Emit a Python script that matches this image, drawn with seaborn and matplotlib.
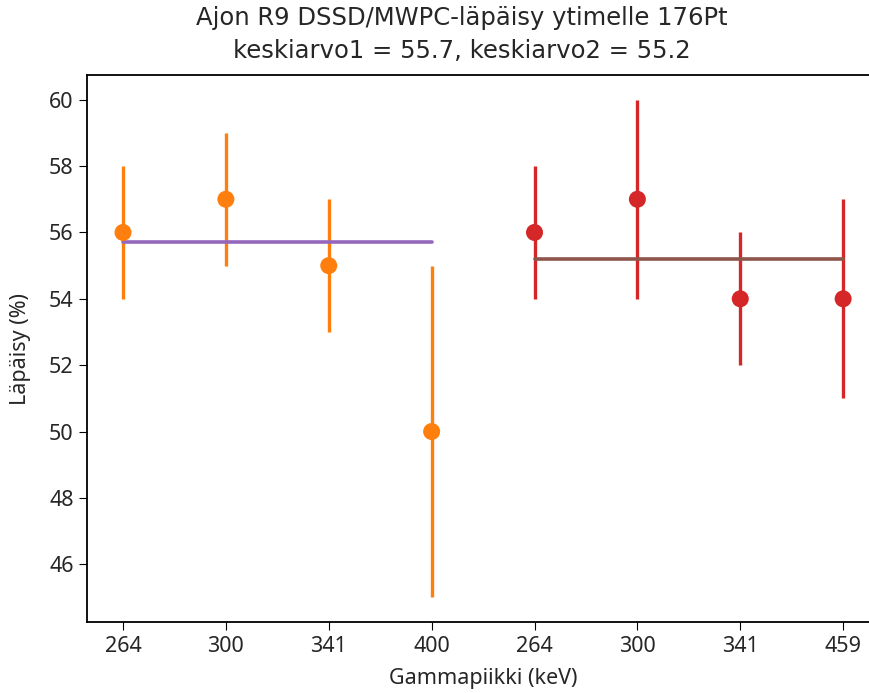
import numpy as np
import pandas as pd
import matplotlib
matplotlib.use("Agg")
import matplotlib.pyplot as plt
import seaborn as sns

# ── Data ──────────────────────────────────────────────────────────────────────
peaks1 = ["264", "300", "341", "400"]
vals1  = [56, 57, 55, 50]
errs1  = [2, 2, 2, 5]

peaks2 = ["264", "300", "341", "459"]
vals2  = [56, 57, 54, 54]
errs2  = [2, 3, 2, 3]

mean1 = 55.7
mean2 = 55.2

sns.set_style("ticks")
plt.rcParams["font.family"] = ["Noto Sans", "DejaVu Sans"]

x1 = np.arange(len(peaks1))
x2 = np.arange(len(peaks2)) + len(peaks1)
df1 = pd.DataFrame({"x": x1, "y": vals1})
df2 = pd.DataFrame({"x": x2, "y": vals2})

fig, ax = plt.subplots(figsize=(8.7, 6.93), dpi=100)
# the reference is cropped on the right: axes runs a bit past the image edge
fig.subplots_adjust(left=0.100, right=1.0105, top=0.892, bottom=0.102)

ax.errorbar(x1, vals1, yerr=errs1, fmt="none", ecolor="tab:orange", elinewidth=2.4)
ax.errorbar(x2, vals2, yerr=errs2, fmt="none", ecolor="tab:red", elinewidth=2.4)
sns.scatterplot(data=df1, x="x", y="y", ax=ax, color="tab:orange", s=150,
                edgecolor="none", linewidth=0, zorder=3)
sns.scatterplot(data=df2, x="x", y="y", ax=ax, color="tab:red", s=150,
                edgecolor="none", linewidth=0, zorder=3)

sns.lineplot(x=[x1[0], x1[-1]], y=[mean1, mean1], ax=ax, color="tab:purple", linewidth=2.6)
sns.lineplot(x=[x2[0], x2[-1]], y=[mean2, mean2], ax=ax, color="tab:brown", linewidth=2.6)

ax.set_xticks(np.concatenate([x1, x2]))
ax.set_xticklabels(peaks1 + peaks2)
ax.tick_params(labelsize=15.5, length=6, color="black")
ax.set_xlabel("Gammapiikki (keV)", fontsize=15.5, labelpad=8)
ax.set_ylabel("Läpäisy (%)", fontsize=15.5, labelpad=13)
ax.set_title("Ajon R9 DSSD/MWPC-läpäisy ytimelle 176Pt\n"
             f"keskiarvo1 = {mean1}, keskiarvo2 = {mean2}",
             fontsize=17.5, family="DejaVu Sans", linespacing=1.5,
             x=0.4735, pad=12)
for sp in ax.spines.values():
    sp.set_visible(True)
    sp.set_color("black")
    sp.set_linewidth(1.3)

fig.savefig("out.png", dpi=100)
